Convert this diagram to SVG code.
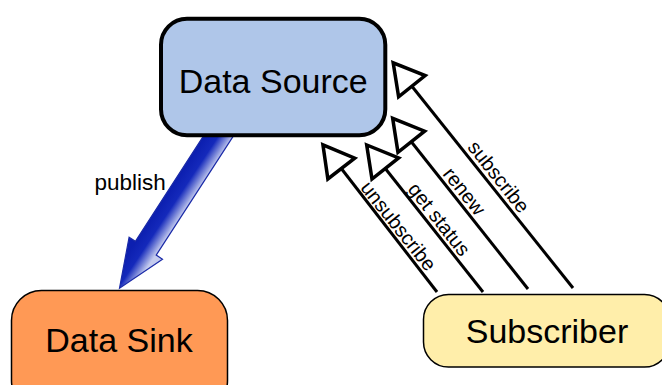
<svg xmlns="http://www.w3.org/2000/svg" width="662" height="385" viewBox="0 0 662 385">
  <style>
    .node-label { font-family: "Liberation Sans", Arial, sans-serif; font-size: 34px; fill: #000; text-anchor: middle; }
    .edge-label { font-family: "Liberation Sans", Arial, sans-serif; font-size: 20px; fill: #000; text-anchor: middle; }
    .pub-label { font-family: "Liberation Sans", Arial, sans-serif; font-size: 22.5px; fill: #000; }
    .call { fill: none; stroke: #000; stroke-width: 3; marker-end: url(#open-head); }
  </style>
  <defs>
    <!-- hollow triangular head for the request lines -->
    <marker id="open-head" viewBox="-4 -22 40 44" refX="0" refY="0" markerWidth="40" markerHeight="44" markerUnits="userSpaceOnUse" orient="auto">
      <path d="M0,-17 L30,0 L0,17 Z" fill="#fff" stroke="#000" stroke-width="3.5"/>
    </marker>
    <!-- shading across the block arrow, dark on the left, light on the right -->
    <linearGradient id="pub-fill" gradientUnits="userSpaceOnUse" x1="135.8" y1="241.6" x2="155.8" y2="254.8">
      <stop offset="0" stop-color="#0c1fb0"/>
      <stop offset="0.45" stop-color="#1429bb"/>
      <stop offset="1" stop-color="#c4cbee"/>
    </linearGradient>
  </defs>

  <g id="connectors">
    <!-- publish: block arrow from the source down to the sink -->
    <g id="edge-publish">
      <path d="M211.8,123.1 L232.8,136.9 L156.2,255.1 L162.5,259.2 L119.5,288.3 L129.1,237.2 L135.4,241.3 Z" fill="url(#pub-fill)" stroke="#1a2aa8" stroke-width="1.2" stroke-linejoin="miter"/>
      <text class="pub-label" x="94.5" y="189.5">publish</text>
    </g>
    <g id="edge-unsubscribe">
      <path class="call" d="M437,292 L341.3,168.5"/>
      <text class="edge-label" transform="translate(393.2,230.2) rotate(51.6)">unsubscribe</text>
    </g>
    <g id="edge-get-status">
      <path class="call" d="M483,292 L385.3,168.5"/>
      <text class="edge-label" transform="translate(433.9,223.6) rotate(51.6)">get status</text>
    </g>
    <g id="edge-renew">
      <path class="call" d="M528,289 L411.3,141.8"/>
      <text class="edge-label" transform="translate(459,195.5) rotate(51.6)">renew</text>
    </g>
    <g id="edge-subscribe">
      <path class="call" d="M573,288 L411.9,86.2"/>
      <text class="edge-label" transform="translate(493.3,181) rotate(51.6)">subscribe</text>
    </g>
  </g>

  <g id="data-source">
    <rect x="161" y="18.7" width="224.3" height="116.6" rx="26" ry="26" fill="#afc6e9" stroke="#000" stroke-width="4"/>
    <text class="node-label" x="273.2" y="93">Data Source</text>
  </g>

  <g id="data-sink">
    <rect x="11.5" y="290.5" width="216" height="120" rx="30" ry="30" fill="#ff9955" stroke="#000" stroke-width="1.5"/>
    <text class="node-label" x="119" y="352">Data Sink</text>
  </g>

  <g id="subscriber">
    <rect x="423.5" y="294.5" width="246" height="72.5" rx="25" ry="25" fill="#ffeeaa" stroke="#000" stroke-width="1.5"/>
    <text class="node-label" x="547" y="343">Subscriber</text>
  </g>
</svg>
